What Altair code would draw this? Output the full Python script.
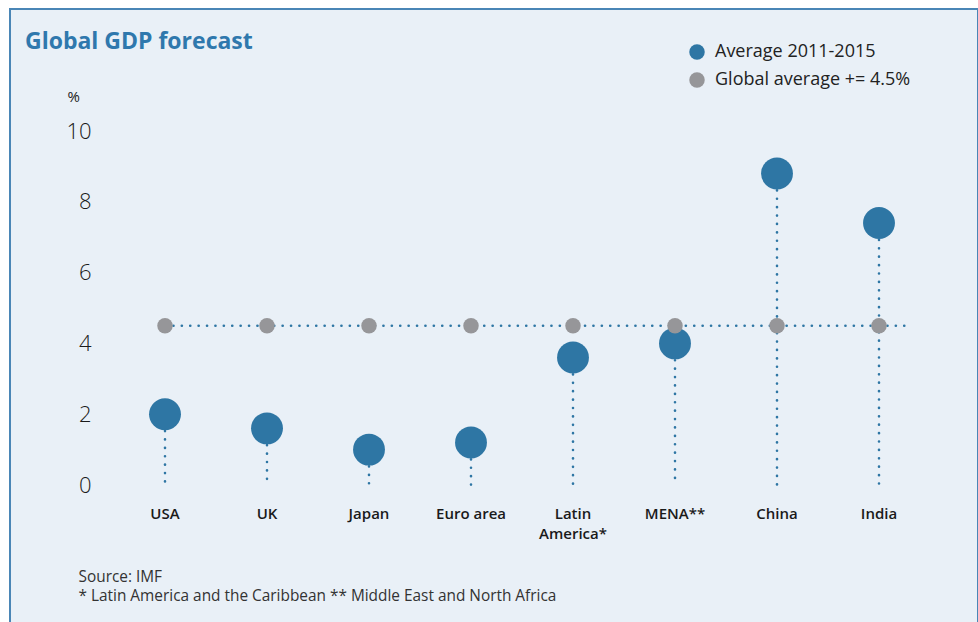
import altair as alt
import pandas as pd

countries = ["USA", "UK", "Japan", "Euro area", "Latin America*", "MENA**", "China", "India"]
avg_2011_2015 = [2.0, 1.6, 1.0, 1.2, 3.6, 4.0, 8.8, 7.4]
global_avg = 4.5
series_names = ["Average 2011-2015", "Global average += 4.5%"]
y_ticks = [0, 2, 4, 6, 8, 10]
footer = ["Source: IMF", "* Latin America and the Caribbean ** Middle East and North Africa"]

BLUE = "#2e76a4"
GREY = "#969699"
FONT = "Open Sans"

df = pd.DataFrame({
    "country": countries,
    "value": avg_2011_2015,
    "series": [series_names[0]] * len(countries),
})
df_g = pd.DataFrame({
    "country": countries,
    "value": [global_avg] * len(countries),
    "series": [series_names[1]] * len(countries),
})
df_h = pd.DataFrame({"start": [countries[0]], "end": [countries[-1]], "value": [global_avg]})

xscale = alt.Scale(domain=countries, range=[104, 920])
yscale = alt.Scale(domain=[0, 10], range=[476, 122], nice=False, zero=False)
colscale = alt.Scale(domain=series_names, range=[BLUE, GREY])

x_axis = alt.Axis(
    orient="bottom", offset=-127, domain=False, ticks=False, grid=False,
    labelPadding=10, labelAngle=0, labelFontSize=15, labelFontWeight=600,
    labelFont=FONT, labelColor="#1a1a1a", labelBaseline="top", labelLineHeight=20,
    labelOverlap=False, labelLimit=0,
    labelExpr="datum.label == 'Latin America*' ? ['Latin', 'America*'] : datum.label",
    title=footer, titleX=68, titleY=73, titleAlign="left", titleBaseline="top",
    titleFontSize=15.4, titleFontWeight="normal", titleFont=FONT, titleColor="#333333",
    titleLineHeight=19, titleAnchor="start", titleLimit=0,
)
y_axis = alt.Axis(
    orient="left", offset=-85, domain=False, ticks=False, grid=False, values=y_ticks,
    format="d", labelPadding=4, labelFontSize=22, labelFontWeight=300, labelFont=FONT,
    labelColor="#1a1a1a",
    title="%", titleAngle=0, titleX=-28, titleY=87, titleAlign="left",
    titleBaseline="middle", titleFontSize=15, titleFontWeight="normal",
    titleFont=FONT, titleColor="#222222",
)
legend = alt.Legend(
    title=None, orient="none", legendX=678, legendY=34, symbolType="circle",
    symbolSize=240, symbolOpacity=1, symbolStrokeWidth=0, labelFontSize=18,
    labelFont=FONT, labelColor="#222222", labelOffset=9, rowPadding=10, padding=0,
    labelLimit=0,
)

dot_style = dict(strokeDash=[0.1, 8.3], strokeCap="round", strokeWidth=2.6, color=BLUE)

vrules = alt.Chart(df).mark_rule(**dot_style).encode(
    x=alt.X("country:N", scale=xscale, axis=x_axis, sort=countries),
    y=alt.Y("value:Q", scale=yscale, axis=y_axis),
    y2=alt.Y2(datum=0),
)

hrule = alt.Chart(df_h).mark_rule(x2Offset=31, **dot_style).encode(
    x=alt.X("start:N", scale=xscale, sort=countries),
    x2="end:N",
    y=alt.Y("value:Q", scale=yscale),
)

blue = alt.Chart(df).mark_circle(size=1018, opacity=1).encode(
    x=alt.X("country:N", scale=xscale, sort=countries),
    y=alt.Y("value:Q", scale=yscale),
    color=alt.Color("series:N", scale=colscale, legend=legend),
)

grey = alt.Chart(df_g).mark_circle(size=240, opacity=1).encode(
    x=alt.X("country:N", scale=xscale, sort=countries),
    y=alt.Y("value:Q", scale=yscale),
    color=alt.Color("series:N", scale=colscale, legend=legend),
)

chart = alt.layer(vrules, hrule, blue, grey).properties(
    width=968,
    height=614,
    title=alt.TitleParams(
        "Global GDP forecast", anchor="start", frame="group", offset=-45, dx=15,
        font=FONT, fontSize=23, fontWeight="bold", color="#2f78ad",
    ),
    autosize=alt.AutoSizeParams(type="none"),
    padding={"left": 10, "top": 9, "right": 0, "bottom": 0},
    background="white",
).configure_view(
    fill="#e9f0f7", stroke="#4a86b6", strokeWidth=2,
)

chart.save("out.html", embed_options={"renderer": "svg", "actions": False})
